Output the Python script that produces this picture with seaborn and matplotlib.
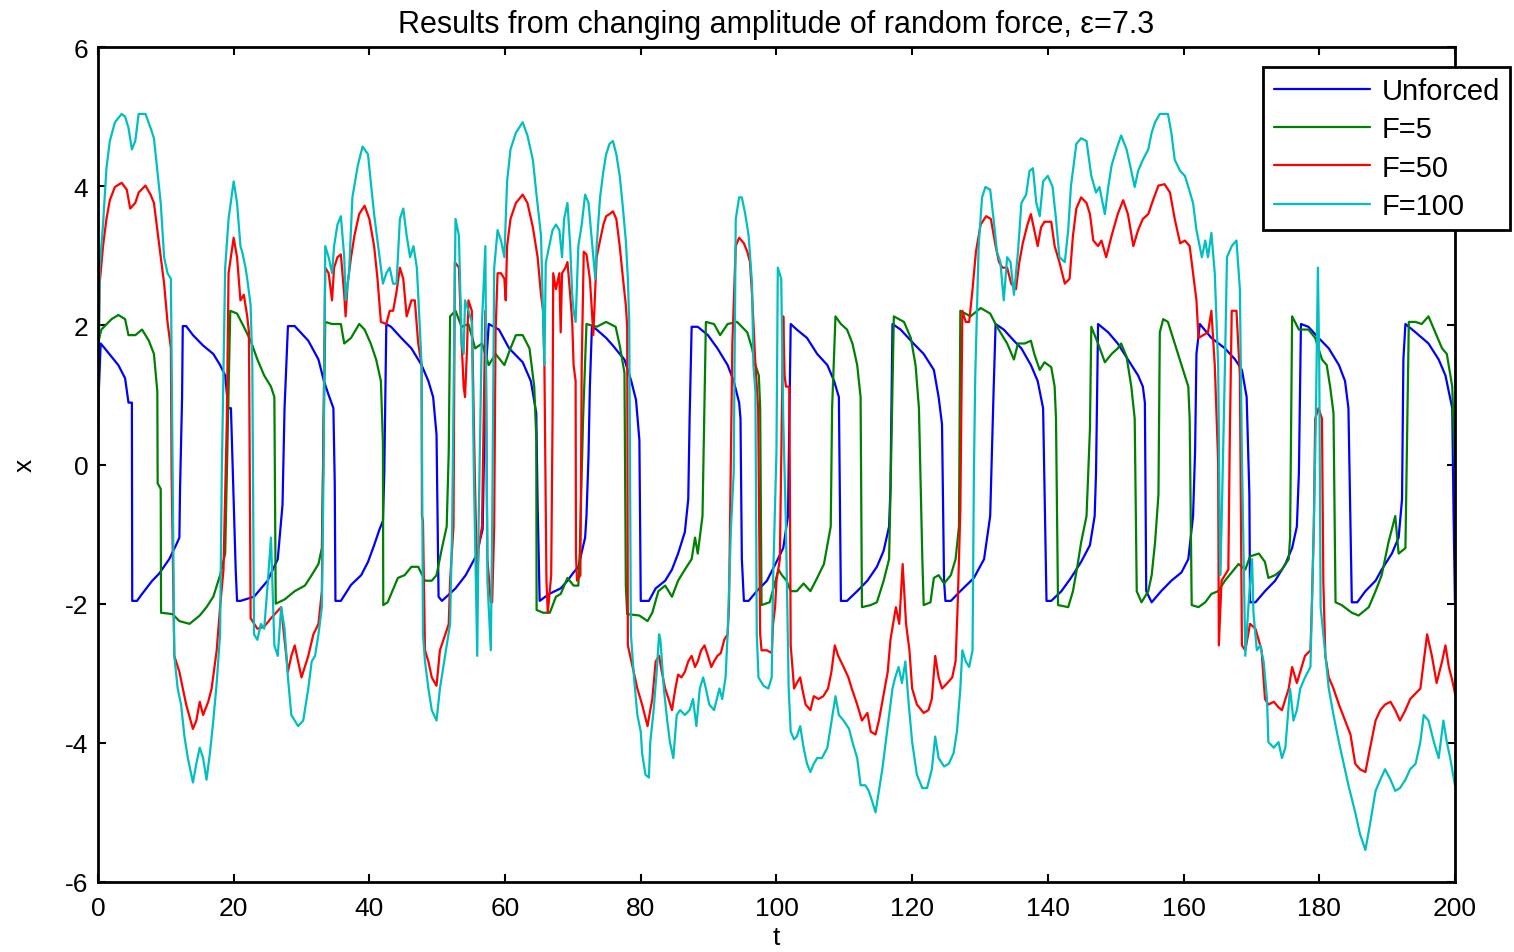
import matplotlib
matplotlib.use("Agg")
import matplotlib.pyplot as plt
from matplotlib.lines import Line2D
import seaborn as sns
import pandas as pd

# ---------------- data (t, x) ----------------
unforced = [(0,0.74),(0.4,1.74),(1.0,1.67),(2.0,1.55),(3.0,1.43),(4.0,1.24),(4.5,0.89),(5.0,0.89),(5.05,-1.96),(5.75,-1.96),
    (6.5,-1.86),(8.0,-1.67),(9.0,-1.57),(10.5,-1.36),(11.5,-1.16),(12.0,-1.05),(12.1,-0.35),(12.4,0.97),(12.5,1.99),(13.0,1.99),
    (14.0,1.86),(15.5,1.71),(17.0,1.59),(18.0,1.43),(18.75,1.28),(19.2,0.81),(19.6,0.81),(20.3,-1.51),(20.5,-1.96),(21.0,-1.96),
    (23.0,-1.90),(25.0,-1.67),(26.5,-1.36),(27.2,-0.58),(27.5,0.81),(28.0,1.99),(29.0,1.99),(31.0,1.78),(32.5,1.51),(33.3,1.20),
    (34.0,1.00),(34.7,0.81),(34.9,-0.27),(35.0,-1.96),(35.8,-1.96),(37.3,-1.73),(38.8,-1.59),(39.8,-1.40),(40.7,-1.16),(41.5,-0.93),
    (42.0,-0.81),(42.2,-0.12),(42.5,2.02),(43.2,1.98),(44.7,1.82),(46.2,1.67),(47.7,1.43),(48.7,1.20),(49.4,0.97),(49.9,0.43),
    (50.2,-1.90),(50.7,-1.96),(52.7,-1.78),(54.2,-1.59),(55.7,-1.32),(56.7,-0.93),(57.1,1.28),(57.6,2.02),(59.1,1.94),(60.6,1.67),
    (62.6,1.47),(63.8,1.20),(64.6,0.74),(64.8,-0.58),(65.1,-1.96),(66.5,-1.86),(68.2,-1.78),(69.2,-1.67),(70.1,-1.55),(70.8,-1.47),
    (71.8,-1.05),(72.0,-0.74),(72.3,0.12),(72.5,1.12),(72.8,1.98),(73.5,1.94),(74.9,1.82),(75.9,1.71),(76.9,1.59),(77.6,1.51),
    (78.6,1.20),(79.3,0.93),(79.8,0.35),(80.0,-1.96),(81.2,-1.96),(82.2,-1.78),(83.6,-1.67),(84.6,-1.51),(85.5,-1.28),(86.5,-0.97),
    (87.0,-0.50),(87.2,0.66),(87.5,1.98),(88.4,1.98),(89.9,1.86),(91.3,1.67),(92.8,1.43),(93.7,1.20),(94.5,0.89),(94.7,0.66),
    (94.9,-1.36),(95.2,-1.96),(95.9,-1.96),(97.1,-1.82),(98.6,-1.67),(100.0,-1.40),(101.0,-1.20),(101.7,-0.74),(102.1,2.02),
    (103.0,1.94),(104.5,1.82),(106.0,1.59),(107.5,1.43),(108.5,1.20),(109.2,0.97),(109.3,0.04),(109.5,-1.96),(110.4,-1.96),
    (111.9,-1.82),(113.4,-1.67),(114.8,-1.47),(115.8,-1.24),(116.6,-0.89),(116.8,-0.35),(117.1,2.02),(118.3,1.94),(120.2,1.74),
    (121.7,1.59),(123.2,1.36),(123.9,0.97),(124.4,0.58),(124.7,-1.67),(124.9,-1.96),(125.7,-1.96),(127.1,-1.82),(129.1,-1.63),
    (130.6,-1.36),(131.5,-0.74),(132.0,1.05),(132.3,2.02),(133.5,1.94),(135.0,1.78),(136.1,1.67),(137.5,1.43),(138.5,1.20),
    (139.3,0.81),(139.5,-0.27),(139.8,-1.96),(140.5,-1.96),(142.0,-1.82),(143.4,-1.63),(144.9,-1.40),(146.2,-1.16),(146.9,-0.74),
    (147.1,-0.12),(147.4,2.02),(148.9,1.90),(150.3,1.74),(151.8,1.51),(153.3,1.28),(154.0,1.12),(154.3,0.89),(154.5,-1.82),
    (155.3,-1.98),(156.7,-1.82),(158.2,-1.67),(159.7,-1.55),(160.7,-1.36),(161.4,-0.74),(161.7,0.19),(161.9,1.59),(162.4,2.02),
    (164.1,1.82),(166.1,1.67),(167.6,1.51),(168.6,1.36),(169.3,0.97),(169.7,-0.43),(169.8,-1.98),(170.6,-1.98),(172.0,-1.82),
    (173.5,-1.67),(175.0,-1.43),(176.0,-1.20),(176.7,-0.89),(177.0,-0.12),(177.3,2.02),(178.4,1.98),(179.9,1.82),(181.4,1.67),
    (182.9,1.43),(183.8,1.20),(184.3,0.81),(184.8,-1.98),(185.6,-1.98),(186.8,-1.82),(188.3,-1.67),(189.2,-1.51),(190.7,-1.28),
    (191.7,-1.05),(192.2,-0.50),(192.4,1.51),(192.7,2.02),(194.2,1.90),(196.1,1.74),(197.6,1.51),(198.6,1.28),(199.6,0.81),
    (199.8,-0.74),(200.0,-1.98)]

force5 = [(0,1.74),(0.5,1.94),(2.0,2.09),(3.0,2.15),(4.0,2.09),(4.5,1.86),(5.5,1.86),(6.5,1.94),(7.5,1.78),(8.25,1.59),
    (8.75,1.05),(8.8,-0.27),(9.25,-0.35),(9.3,-2.13),(11.0,-2.15),(12.0,-2.25),(13.5,-2.29),(15.0,-2.17),(16.0,-2.05),(17.0,-1.90),
    (18.0,-1.59),(18.75,-1.28),(19.0,-0.12),(19.25,1.05),(19.5,2.21),(20.5,2.17),(21.5,1.98),(22.5,1.78),(23.5,1.51),(24.5,1.28),
    (25.5,1.12),(26.0,0.97),(26.2,-2.00),(27.5,-1.94),(29.0,-1.82),(30.5,-1.74),(31.5,-1.59),(32.5,-1.43),(33.0,-1.20),(33.5,2.05),
    (34.5,2.02),(35.8,2.02),(36.3,1.74),(37.3,1.82),(38.5,2.02),(39.3,1.94),(40.2,1.74),(41.0,1.51),(41.7,1.20),(42.0,0.31),
    (42.05,-2.02),(42.7,-1.98),(44.2,-1.63),(45.2,-1.59),(46.2,-1.47),(47.2,-1.47),(48.2,-1.67),(49.2,-1.67),(49.9,-1.59),
    (50.7,-1.20),(51.4,-0.89),(51.7,0.19),(51.9,2.13),(52.7,2.21),(53.6,1.98),(54.6,2.02),(55.6,1.67),(56.6,1.74),(57.6,1.43),
    (58.6,1.59),(59.9,1.43),(60.8,1.67),(61.6,1.86),(62.6,1.86),(63.6,1.67),(64.3,1.12),(64.6,0.39),(64.65,-2.09),(65.6,-2.13),
    (66.6,-2.13),(67.5,-1.90),(68.2,-1.86),(69.2,-1.63),(70.1,-1.74),(70.8,-1.74),(71.0,-1.28),(71.5,0.66),(72.0,2.02),(73.5,1.98),
    (74.9,2.05),(76.3,1.98),(76.9,1.71),(77.6,1.32),(77.8,-1.74),(78.0,-2.15),(79.8,-2.17),(81.0,-2.25),(81.7,-2.13),(82.6,-1.82),
    (83.6,-1.74),(84.6,-1.90),(85.5,-1.67),(86.5,-1.51),(87.5,-1.36),(88.0,-1.05),(88.4,-1.28),(89.1,-0.74),(89.6,2.05),(90.8,2.02),
    (91.7,1.86),(92.8,2.02),(94.2,2.05),(95.7,1.90),(96.4,1.67),(96.9,1.43),(97.4,1.28),(97.6,0.81),(97.8,-2.02),(99.0,-1.98),
    (100.3,-1.51),(100.8,-1.59),(101.5,-1.67),(102.1,-1.82),(103.0,-1.82),(104.0,-1.71),(105.0,-1.82),(106.0,-1.63),(107.0,-1.43),
    (108.0,-0.89),(108.2,0.81),(108.7,2.13),(109.5,2.02),(110.4,1.94),(111.2,1.74),(111.9,1.43),(112.4,0.97),(112.6,-2.05),
    (113.9,-2.02),(114.8,-1.98),(115.8,-1.67),(116.6,-1.36),(116.8,-0.43),(117.3,2.13),(118.8,2.05),(119.8,1.82),(120.5,1.43),
    (121.0,0.81),(121.5,-1.36),(121.7,-2.02),(122.7,-1.98),(123.2,-1.63),(123.9,-1.59),(124.7,-1.71),(125.7,-1.59),(126.4,-1.36),
    (126.9,-0.89),(127.1,2.21),(128.6,2.13),(130.1,2.25),(131.5,2.17),(132.5,1.98),(134.0,1.74),(135.0,1.51),(135.6,1.74),
    (136.6,1.74),(137.5,1.78),(138.0,1.59),(138.8,1.36),(139.5,1.47),(140.5,1.40),(141.0,1.12),(141.2,0.66),(141.5,-2.02),
    (143.0,-2.05),(143.7,-1.82),(144.4,-1.43),(144.9,-1.12),(145.7,-0.74),(146.2,0.50),(146.4,1.98),(147.4,1.74),(148.4,1.47),
    (149.4,1.59),(150.3,1.67),(150.8,1.74),(151.6,1.55),(152.3,1.12),(152.8,0.66),(153.1,-1.82),(153.8,-1.98),(154.8,-1.82),
    (155.3,-1.59),(155.8,-1.12),(156.3,-0.43),(156.5,1.90),(157.0,2.09),(157.7,2.05),(158.7,1.74),(159.7,1.43),(160.7,1.12),
    (160.9,0.66),(161.2,-2.02),(162.2,-2.05),(163.2,-1.98),(164.1,-1.86),(165.1,-1.82),(166.1,-1.67),(167.1,-1.55),(168.1,-1.43),
    (169.1,-1.51),(169.8,-1.32),(171.1,-1.28),(172.0,-1.40),(172.5,-1.63),(173.5,-1.59),(174.5,-1.51),(175.5,-1.36),(175.7,-1.05),
    (176.0,2.13),(177.0,1.94),(178.4,1.94),(179.4,1.82),(180.4,1.51),(181.1,1.43),(181.6,1.12),(182.1,0.74),(182.4,-1.98),
    (183.3,-2.02),(184.8,-2.13),(185.8,-2.17),(187.3,-2.05),(188.3,-1.82),(189.2,-1.59),(190.2,-1.12),(191.2,-0.74),(191.7,-1.28),
    (192.7,-1.20),(193.2,2.05),(194.2,2.05),(195.1,2.02),(196.1,2.13),(197.1,1.90),(198.1,1.67),(198.8,1.59),(199.6,1.12),
    (200.0,-0.04)]

force50 = [(0,1.00),(0.25,2.60),(0.75,3.14),(1.25,3.53),(1.75,3.80),(2.5,3.99),(3.5,4.05),(4.25,3.95),(4.75,3.68),(5.5,3.76),
    (6.0,3.91),(7.0,4.01),(7.75,3.88),(8.25,3.76),(8.75,3.37),(9.25,2.98),(9.75,2.60),(10.25,2.05),(10.75,1.67),(10.85,-0.12),
    (11.25,-2.75),(12.0,-2.98),(13.0,-3.45),(14.0,-3.80),(14.5,-3.68),(15.0,-3.41),(15.5,-3.60),(16.25,-3.41),(16.75,-3.22),
    (17.5,-2.67),(18.0,-2.05),(18.5,-1.51),(19.0,0.66),(19.25,2.75),(20.0,3.26),(20.5,2.98),(21.0,2.36),(21.5,2.44),(22.0,2.13),
    (22.25,1.90),(22.5,-2.21),(23.5,-2.36),(24.5,-2.33),(25.5,-2.21),(26.25,-2.13),(27.0,-2.05),(27.25,-2.29),(28.0,-2.98),
    (28.5,-2.75),(29.0,-2.60),(29.5,-2.83),(30.0,-3.06),(31.0,-2.75),(31.75,-2.44),(32.5,-2.29),(33.0,-1.82),(33.25,0.66),
    (33.5,2.83),(34.0,2.75),(34.5,2.36),(34.8,2.83),(35.3,2.98),(35.8,3.02),(36.3,2.44),(36.5,2.13),(36.8,2.60),(37.3,2.98),
    (37.8,3.29),(38.5,3.60),(39.3,3.72),(40.0,3.53),(40.7,3.14),(41.2,2.67),(41.7,2.05),(42.5,2.02),(43.0,2.21),(43.5,2.21),
    (44.0,2.48),(44.5,2.83),(45.0,2.67),(45.5,2.13),(46.2,2.36),(46.7,2.36),(47.2,1.74),(47.7,1.43),(47.75,-0.74),(47.9,-0.81),
    (48.2,-2.67),(48.7,-2.83),(49.2,-3.06),(49.9,-3.18),(50.4,-2.67),(51.2,-2.44),(51.7,-2.29),(51.9,-1.67),(52.4,-0.89),
    (52.6,2.91),(53.2,2.83),(53.6,1.74),(53.9,1.12),(54.1,0.97),(54.4,1.67),(54.6,2.36),(55.1,2.21),(55.6,-0.43),(55.9,-1.67),
    (56.1,-1.20),(56.6,-0.89),(57.1,2.21),(57.4,-1.36),(57.9,-1.98),(58.1,-1.98),(58.4,-0.89),(58.6,1.90),(58.9,2.75),(59.4,2.75),
    (59.9,2.67),(60.1,2.36),(60.3,3.14),(60.8,3.53),(61.6,3.76),(62.6,3.88),(63.3,3.76),(64.1,3.41),(64.8,2.98),(65.3,2.44),
    (65.6,2.21),(65.8,1.43),(66.1,-1.67),(66.3,-2.13),(66.8,-1.59),(67.0,0.66),(67.1,2.75),(67.5,2.52),(68.0,2.75),(68.2,1.90),
    (68.4,2.75),(68.9,2.83),(69.2,2.91),(69.6,2.44),(69.9,2.05),(70.1,1.43),(70.4,1.20),(70.45,-1.28),(70.6,-1.67),(71.1,-1.59),
    (71.3,1.43),(71.6,3.06),(72.0,3.02),(72.5,2.67),(72.8,2.21),(73.0,1.86),(73.5,2.98),(74.0,3.22),(74.5,3.45),(74.9,3.57),
    (75.4,3.60),(75.9,3.64),(76.4,3.53),(76.9,3.14),(77.3,2.75),(77.8,2.29),(78.0,1.98),(78.1,-2.60),(78.8,-2.91),(79.5,-3.22),
    (80.2,-3.45),(81.0,-3.76),(81.4,-3.53),(81.7,-3.37),(82.2,-2.83),(82.7,-2.75),(83.1,-2.98),(83.6,-3.22),(84.1,-3.37),
    (84.6,-3.53),(85.1,-3.22),(85.5,-3.02),(86.0,-3.06),(86.5,-2.98),(87.0,-2.83),(87.5,-2.75),(88.0,-2.91),(88.4,-2.83),
    (88.9,-2.67),(89.4,-2.60),(89.9,-2.75),(90.4,-2.91),(90.8,-2.83),(91.3,-2.75),(91.8,-2.71),(92.3,-2.52),(92.8,-2.44),
    (93.0,-2.05),(93.3,0.27),(93.5,1.74),(94.0,3.14),(94.5,3.26),(95.2,3.18),(95.7,3.06),(96.1,2.91),(96.4,2.44),(96.6,2.05),
    (96.9,1.43),(97.3,0.81),(97.6,-2.44),(97.8,-2.67),(98.6,-2.67),(99.3,-2.71),(99.5,-2.29),(99.8,-2.05),(100.0,-1.67),
    (100.5,-1.36),(101.0,2.13),(101.2,1.28),(101.4,1.12),(101.9,1.12),(102.1,-2.60),(102.6,-3.22),(103.0,-3.14),(103.5,-3.06),
    (103.8,-3.22),(104.3,-3.45),(105.0,-3.53),(105.5,-3.33),(106.2,-3.37),(106.9,-3.33),(107.6,-3.22),(108.1,-2.98),(108.6,-2.60),
    (109.1,-2.75),(109.9,-2.91),(110.6,-3.06),(111.1,-3.22),(111.9,-3.45),(112.6,-3.68),(113.4,-3.57),(113.9,-3.84),(114.6,-3.88),
    (115.1,-3.68),(115.6,-3.41),(116.4,-2.98),(116.8,-2.52),(117.6,-2.05),(118.1,-2.29),(118.6,-1.43),(119.1,-2.29),(119.6,-2.67),
    (120.0,-3.22),(120.7,-3.45),(121.7,-3.57),(122.4,-3.53),(122.9,-3.37),(123.4,-2.75),(123.9,-3.06),(124.4,-3.22),(125.2,-3.14),
    (125.9,-3.06),(126.4,-2.83),(126.7,-2.05),(127.1,-0.66),(127.4,2.21),(127.9,2.05),(128.4,2.05),(128.9,2.52),(129.4,3.06),
    (130.1,3.45),(130.9,3.57),(131.6,3.53),(132.3,3.14),(132.8,2.91),(133.3,2.83),(134.0,2.83),(134.6,2.60),(135.3,2.52),
    (135.8,2.91),(136.3,3.18),(137.0,3.45),(137.5,3.60),(138.0,3.37),(138.5,3.14),(139.0,3.41),(139.5,3.49),(140.5,3.49),
    (141.0,3.14),(141.7,2.91),(142.5,2.60),(143.2,2.67),(143.7,3.29),(144.2,3.68),(144.9,3.84),(145.7,3.76),(146.2,3.60),
    (146.7,3.22),(147.4,3.14),(147.9,3.22),(148.6,2.98),(149.4,3.29),(150.3,3.60),(151.1,3.80),(151.8,3.60),(152.6,3.14),
    (153.3,3.37),(154.0,3.53),(154.8,3.60),(155.5,3.80),(156.3,4.01),(157.2,4.03),(158.0,3.91),(158.7,3.53),(159.5,3.18),
    (160.2,3.22),(160.9,3.14),(161.4,2.75),(161.9,2.36),(162.2,1.82),(162.9,1.86),(163.6,1.90),(164.1,2.21),(164.6,1.43),
    (165.1,0.04),(165.2,-2.60),(165.6,-1.67),(166.1,-1.59),(166.6,-1.51),(166.8,0.27),(167.1,2.21),(167.8,2.21),(168.3,1.28),
    (168.6,-2.60),(169.1,-2.67),(169.8,-2.29),(170.6,-2.36),(171.5,-2.67),(172.0,-3.37),(172.5,-3.45),(173.3,-3.41),(174.0,-3.49),
    (174.5,-3.53),(175.5,-3.22),(176.0,-2.91),(176.7,-3.14),(177.4,-2.91),(177.9,-2.75),(178.7,-2.67),(178.9,-2.05),(179.2,-0.89),
    (179.4,0.66),(179.9,0.81),(180.4,0.66),(180.6,-1.67),(180.9,-2.75),(181.4,-3.06),(182.1,-3.22),(182.9,-3.45),(183.8,-3.68),
    (184.6,-3.88),(185.3,-4.30),(186.0,-4.38),(186.8,-4.42),(187.5,-4.07),(188.3,-3.68),(189.0,-3.53),(189.7,-3.45),(190.5,-3.41),
    (191.2,-3.53),(191.9,-3.68),(192.7,-3.53),(193.4,-3.37),(194.2,-3.29),(194.9,-3.22),(195.4,-2.83),(195.9,-2.44),(196.6,-2.75),
    (197.3,-3.14),(198.1,-2.83),(198.6,-2.60),(199.1,-2.91),(199.6,-3.10),(200.0,-3.29)]

force100 = [(0,0.04),(0.25,2.83),(0.75,3.45),(1.25,4.26),(1.75,4.65),(2.5,4.92),(3.5,5.04),(4.0,5.00),(4.5,4.84),(5.0,4.53),
    (5.5,4.65),(6.0,5.04),(7.0,5.04),(7.75,4.84),(8.25,4.69),(8.75,4.22),(9.25,3.76),(9.75,2.98),(10.25,2.75),(10.75,2.67),
    (11.0,-0.12),(11.25,-2.75),(11.75,-3.22),(12.25,-3.45),(12.75,-3.91),(13.25,-4.22),(14.0,-4.57),(14.5,-4.30),(15.0,-4.07),
    (15.5,-4.22),(16.0,-4.53),(16.5,-4.15),(17.0,-3.68),(17.5,-3.14),(18.0,-2.44),(18.25,-0.12),(18.75,2.83),(19.25,3.53),
    (20.0,4.07),(20.5,3.76),(21.0,3.14),(21.25,3.06),(21.75,2.83),(22.0,2.67),(22.5,2.29),(22.75,1.43),(23.0,-2.44),(23.5,-2.52),
    (24.0,-2.29),(24.5,-2.36),(25.0,-1.74),(25.5,-1.05),(26.0,-2.60),(26.5,-2.75),(27.0,-2.05),(27.5,-2.36),(28.0,-3.06),
    (28.5,-3.60),(29.5,-3.76),(30.25,-3.68),(31.0,-3.22),(31.5,-2.83),(32.0,-2.75),(32.5,-2.44),(33.0,-2.05),(33.25,-0.12),
    (33.5,3.14),(34.0,2.98),(34.5,2.75),(34.8,3.14),(35.3,3.45),(35.8,3.57),(36.3,2.98),(36.5,2.36),(37.0,2.75),(37.5,3.84),
    (38.3,4.30),(39.0,4.57),(39.8,4.46),(40.2,4.07),(40.7,3.60),(41.5,2.98),(42.0,2.60),(42.5,2.75),(43.0,2.83),(43.5,2.60),
    (44.0,2.60),(44.5,3.53),(45.0,3.68),(45.5,3.29),(46.0,2.98),(46.5,3.14),(47.0,2.83),(47.4,2.05),(47.7,1.43),(47.9,-2.44),
    (48.2,-2.83),(48.7,-3.22),(49.2,-3.53),(49.9,-3.68),(50.4,-3.22),(50.9,-2.91),(51.4,-2.60),(51.9,-2.29),(52.2,-0.89),
    (52.7,3.53),(53.2,3.29),(53.6,1.74),(53.9,1.59),(54.1,2.36),(54.6,2.21),(55.1,2.05),(55.4,-0.12),(55.9,-2.75),(56.1,-0.89),
    (56.6,2.05),(57.1,3.14),(57.4,-1.67),(57.9,-2.67),(58.1,-0.89),(58.4,2.83),(58.9,3.37),(59.4,3.22),(59.9,2.98),(60.3,4.07),
    (60.8,4.53),(61.6,4.77),(62.6,4.92),(63.3,4.73),(64.1,4.38),(64.6,3.91),(65.3,3.29),(65.8,1.43),(66.0,2.90),(67.0,3.37),
    (67.5,3.45),(68.0,3.37),(68.4,2.98),(68.7,3.53),(69.2,3.76),(69.6,3.14),(69.9,2.44),(70.1,2.21),(70.4,2.05),(70.6,2.60),
    (70.8,3.14),(71.3,3.45),(71.8,3.88),(72.3,3.76),(72.8,3.22),(73.3,2.67),(73.5,3.14),(74.0,3.84),(74.5,4.22),(74.9,4.46),
    (75.4,4.61),(75.9,4.65),(76.4,4.46),(76.9,4.15),(77.3,3.76),(77.8,3.22),(78.1,2.67),(78.3,2.05),(78.55,-2.44),(79.0,-3.06),
    (79.5,-3.60),(80.0,-3.84),(80.2,-4.15),(80.7,-4.46),(81.2,-4.50),(81.4,-3.99),(81.9,-3.53),(82.4,-2.91),(82.7,-2.44),
    (82.9,-2.52),(83.4,-3.22),(83.9,-3.68),(84.3,-3.99),(84.8,-4.22),(85.3,-3.60),(85.8,-3.53),(86.5,-3.60),(87.2,-3.53),
    (87.7,-3.37),(88.2,-3.76),(88.7,-3.22),(89.2,-3.06),(89.6,-3.22),(90.1,-3.45),(90.8,-3.53),(91.6,-3.22),(92.0,-3.37),
    (92.5,-3.06),(92.8,-2.44),(93.3,-0.89),(93.7,-0.12),(94.0,3.53),(94.5,3.84),(94.9,3.84),(95.4,3.60),(95.9,3.29),(96.4,2.60),
    (96.6,1.43),(96.9,1.05),(97.1,-2.44),(97.35,-3.06),(98.1,-3.18),(98.8,-3.22),(99.3,-3.06),(99.5,-1.67),(100.0,0.19),
    (100.2,2.83),(100.7,2.67),(101.0,0.66),(101.4,-0.89),(101.8,-3.22),(102.1,-3.84),(102.6,-3.95),(103.0,-3.91),(103.5,-3.76),
    (104.0,-4.07),(104.5,-4.30),(105.0,-4.42),(105.5,-4.30),(106.0,-4.22),(106.7,-4.22),(107.5,-4.07),(108.0,-3.76),(108.7,-3.33),
    (109.2,-3.60),(109.9,-3.68),(110.7,-3.80),(111.2,-3.99),(111.9,-4.22),(112.4,-4.61),(113.1,-4.61),(113.6,-4.69),(114.1,-4.84),
    (114.6,-5.00),(115.1,-4.69),(115.6,-4.38),(116.1,-3.99),(116.6,-3.60),(117.1,-3.22),(117.5,-3.06),(118.0,-2.91),(118.5,-3.14),
    (119.0,-2.83),(119.5,-3.45),(120.0,-3.99),(120.7,-4.46),(121.5,-4.65),(122.2,-4.65),(122.9,-4.38),(123.4,-3.91),(123.9,-4.22),
    (124.7,-4.34),(125.4,-4.30),(126.1,-4.15),(126.6,-3.84),(127.1,-3.22),(127.4,-2.67),(127.9,-2.83),(128.4,-2.91),(128.9,-2.67),
    (129.1,-0.12),(129.3,1.28),(129.8,3.14),(130.3,3.84),(130.8,3.99),(131.5,3.95),(132.0,3.53),(132.5,3.06),(133.0,2.91),
    (133.5,2.36),(134.0,2.98),(134.5,2.91),(135.0,2.44),(135.6,3.06),(136.1,3.76),(136.8,3.88),(137.3,4.22),(137.8,4.26),
    (138.3,3.76),(138.8,3.57),(139.3,4.07),(140.0,4.15),(140.7,3.99),(141.2,3.53),(141.7,2.98),(142.5,2.91),(143.0,3.37),
    (143.4,4.00),(144.2,4.61),(144.9,4.69),(145.7,4.65),(146.4,4.15),(147.1,3.91),(147.6,3.99),(148.4,3.60),(148.9,3.99),
    (149.4,4.30),(150.1,4.53),(150.8,4.73),(151.6,4.53),(152.3,4.22),(152.8,3.99),(153.3,4.22),(154.0,4.38),(154.8,4.53),
    (155.3,4.77),(155.8,4.92),(156.5,5.04),(157.7,5.04),(158.2,4.77),(158.7,4.38),(159.5,4.22),(160.2,4.15),(160.7,3.99),
    (161.4,3.76),(161.9,3.37),(162.7,2.98),(163.2,3.22),(163.6,2.98),(164.1,3.33),(164.6,2.75),(165.1,1.43),(165.4,-1.59),
    (165.6,-0.89),(166.1,1.43),(166.4,2.98),(167.1,3.14),(167.8,3.22),(168.3,2.52),(168.6,0.12),(169.1,-2.75),(169.6,-1.98),
    (170.1,-1.36),(170.3,-2.13),(170.8,-2.67),(171.3,-2.60),(171.8,-2.83),(172.3,-3.37),(172.5,-3.99),(173.3,-4.07),(174.0,-3.99),
    (174.5,-4.22),(175.0,-4.07),(175.7,-3.22),(176.2,-3.68),(176.7,-3.53),(177.2,-3.22),(177.9,-3.06),(178.7,-2.91),(179.2,-0.89),
    (179.5,0.66),(179.8,2.83),(180.0,1.43),(180.2,-2.05),(180.6,-2.44),(181.4,-3.22),(182.1,-3.60),(182.9,-3.99),(183.6,-4.30),
    (184.3,-4.61),(185.3,-5.00),(186.0,-5.31),(186.8,-5.54),(187.5,-5.16),(188.3,-4.69),(189.0,-4.53),(189.7,-4.38),(190.5,-4.53),
    (191.2,-4.69),(191.9,-4.65),(192.7,-4.53),(193.4,-4.38),(194.2,-4.30),(194.9,-3.99),(195.4,-3.60),(196.1,-3.68),(196.9,-3.99),
    (197.6,-4.22),(198.3,-3.68),(198.8,-3.99),(199.3,-4.22),(200.0,-4.61)]

series_names = ["Unforced", "F=5", "F=50", "F=100"]
series_colors = ["#0000ff", "#008000", "#ff0000", "#00bfbf"]
x_ticks = [0, 20, 40, 60, 80, 100, 120, 140, 160, 180, 200]
y_ticks = [-6, -4, -2, 0, 2, 4, 6]
title_text = "Results from changing amplitude of random force, \u03b5=7.3"

# ---------------- build long table ----------------
frames = []
for name, pts in zip(series_names, [unforced, force5, force50, force100]):
    df = pd.DataFrame(pts, columns=["t", "x"])
    df["series"] = name
    frames.append(df)
data = pd.concat(frames, ignore_index=True)

sns.set_theme(style="white")
plt.rcParams["font.family"] = ["Liberation Sans", "DejaVu Sans"]
plt.rcParams["axes.unicode_minus"] = False
plt.rcParams["text.color"] = "black"
plt.rcParams["axes.labelcolor"] = "black"
plt.rcParams["xtick.color"] = "black"
plt.rcParams["ytick.color"] = "black"

fig = plt.figure(figsize=(15.14, 9.53), dpi=100)
ax = fig.add_axes([0.0647, 0.0735, 0.8963, 0.876])

sns.lineplot(data=data, x="t", y="x", hue="series", hue_order=series_names,
             palette=dict(zip(series_names, series_colors)), units="series",
             sort=False, estimator=None, linewidth=1.6, ax=ax, legend=False)

ax.set_xlim(0, 200)
ax.set_ylim(-6, 6)
ax.set_xticks(x_ticks)
ax.set_yticks(y_ticks)
ax.set_xticklabels([str(v) for v in x_ticks], fontsize=19)
ax.set_yticklabels([str(v) for v in y_ticks], fontsize=19)
ax.tick_params(axis="x", pad=10)
ax.tick_params(axis="y", pad=7)
ax.tick_params(direction="in", length=6, width=1.5, top=True, right=True,
               bottom=True, left=True, colors="black")
for s in ax.spines.values():
    s.set_color("black")
    s.set_linewidth(2.0)
ax.set_xlabel("t", fontsize=19, labelpad=4)
ax.set_ylabel("x", fontsize=19, labelpad=20)
ax.set_title(title_text, fontsize=22, pad=11, color="black")

handles = [Line2D([0], [0], color=c, linewidth=1.6) for c in series_colors]
leg = ax.legend(handles, series_names, loc="upper right",
                bbox_to_anchor=(0.9974, 0.9286), bbox_transform=fig.transFigure,
                fontsize=21, handlelength=3.3, labelspacing=0.35, borderpad=0.35,
                handletextpad=0.4, fancybox=False, framealpha=1, borderaxespad=0)
leg.get_frame().set_edgecolor("black")
leg.get_frame().set_linewidth(2.0)

fig.savefig("out.png", dpi=100)
